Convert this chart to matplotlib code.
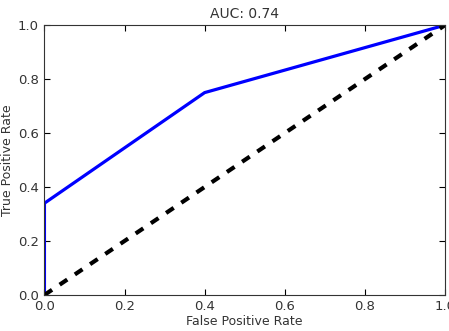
import numpy as np
from matplotlib import pyplot as plt

# ROC points
fpr = [0.0, 0.0, 0.4, 1.0]
tpr = [0.0, 0.34, 0.75, 1.0]
chance = [0.0, 1.0]
auc = 0.74

fig = plt.figure(figsize=(4.49, 3.31), dpi=100)
ax = fig.add_axes([0.099, 0.109, 0.892, 0.815])

ax.plot(fpr, tpr, color='#0000ff', lw=2.3)
ax.plot(chance, chance, color='black', lw=3, ls=(0, (2.2, 2.2)))

ax.set_xlim(0, 1)
ax.set_ylim(0, 1)
ax.set_xticks(np.arange(0, 1.01, 0.2))
ax.set_yticks(np.arange(0, 1.01, 0.2))
ax.tick_params(direction='in', top=True, right=True, length=4,
               labelsize=9.5, labelcolor='#333333', pad=4)
for s in ax.spines.values():
    s.set_color('#333333')

ax.set_title(f"AUC: {auc:.2f}", fontsize=10, color='#333333', pad=5)
ax.set_xlabel("False Positive Rate", fontsize=9, color='#333333', labelpad=1)
ax.set_ylabel("True Positive Rate", fontsize=9, color='#333333', labelpad=3)

fig.savefig("out.png", dpi=100)
